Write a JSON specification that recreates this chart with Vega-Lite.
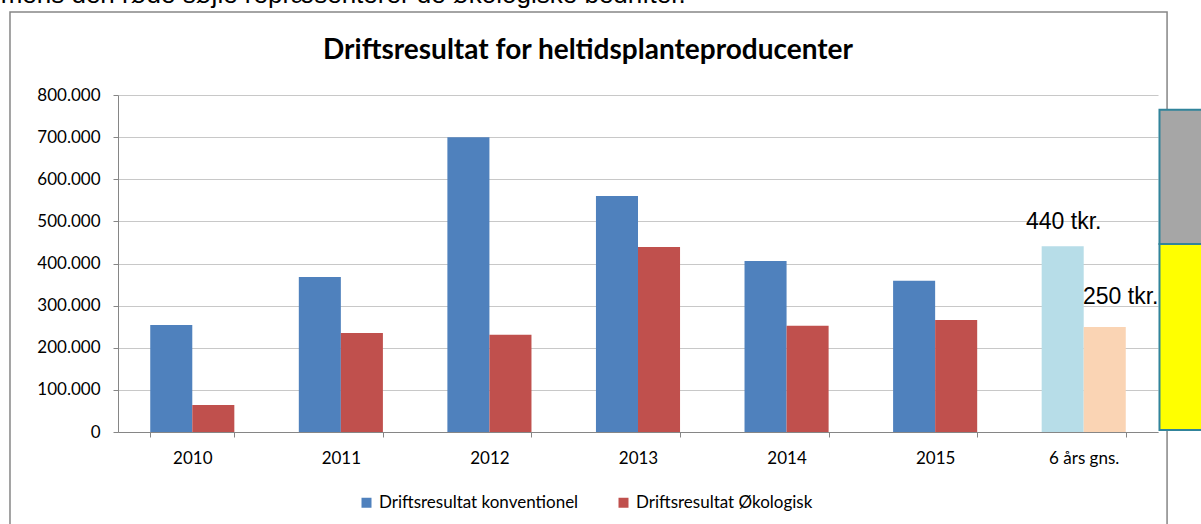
{
  "$schema": "https://vega.github.io/schema/vega-lite/v6.json",
  "width": 1040,
  "height": 337,
  "autosize": "none",
  "padding": {"left": 118, "top": 95, "right": 43, "bottom": 92},
  "background": "white",
  "config": {
    "view": {"stroke": null},
    "font": "Lato",
    "locale": {"number": {"decimal": ",", "thousands": ".", "grouping": [3], "currency": ["", " kr."]}}
  },
  "title": {
    "text": "Driftsresultat for heltidsplanteproducenter",
    "font": "Lato",
    "fontSize": 28,
    "fontWeight": "bold",
    "color": "#000000",
    "anchor": "middle",
    "frame": "group",
    "dx": -50,
    "offset": -83
  },
  "datasets": {
    "bars": [
      {"aar": "2010", "serie": "konv", "farve": "Driftsresultat konventionel", "vaerdi": 254000},
      {"aar": "2010", "serie": "oko", "farve": "Driftsresultat Økologisk", "vaerdi": 64000},
      {"aar": "2011", "serie": "konv", "farve": "Driftsresultat konventionel", "vaerdi": 368000},
      {"aar": "2011", "serie": "oko", "farve": "Driftsresultat Økologisk", "vaerdi": 235000},
      {"aar": "2012", "serie": "konv", "farve": "Driftsresultat konventionel", "vaerdi": 700000},
      {"aar": "2012", "serie": "oko", "farve": "Driftsresultat Økologisk", "vaerdi": 231000},
      {"aar": "2013", "serie": "konv", "farve": "Driftsresultat konventionel", "vaerdi": 560000},
      {"aar": "2013", "serie": "oko", "farve": "Driftsresultat Økologisk", "vaerdi": 439000},
      {"aar": "2014", "serie": "konv", "farve": "Driftsresultat konventionel", "vaerdi": 406000},
      {"aar": "2014", "serie": "oko", "farve": "Driftsresultat Økologisk", "vaerdi": 252000},
      {"aar": "2015", "serie": "konv", "farve": "Driftsresultat konventionel", "vaerdi": 359000},
      {"aar": "2015", "serie": "oko", "farve": "Driftsresultat Økologisk", "vaerdi": 266000},
      {"aar": "6 års gns.", "serie": "konv", "farve": "gns konventionel", "vaerdi": 441000, "etiket": "440 tkr."},
      {"aar": "6 års gns.", "serie": "oko", "farve": "gns økologisk", "vaerdi": 249000, "etiket": "250 tkr."}
    ],
    "ramme": [
      {"x1": -0.727, "x2": 7.061, "y1": -300000, "y2": 997000}
    ],
    "bokse": [
      {"x1": 7.01, "x2": 7.6, "y1": 446000, "y2": 765000, "boks": "graa"},
      {"x1": 7.01, "x2": 7.6, "y1": 5000, "y2": 446000, "boks": "gul"}
    ],
    "tekst": [
      {"x": -0.79, "y": 1018000, "tekst": "mens den røde søjle repræsenterer de økologiske bedrifter."}
    ]
  },
  "layer": [
    {
      "data": {"name": "bars"},
      "encoding": {
        "x": {
          "field": "aar", "type": "nominal", "sort": null,
          "scale": {"paddingInner": 0.434, "paddingOuter": 0.217},
          "axis": {
            "title": null, "labelAngle": 0, "labelFont": "Lato", "labelFontSize": 17, "labelColor": "#000000",
            "domainColor": "#868686", "tickColor": "#868686", "tickSize": 5, "tickBand": "extent",
            "labelPadding": 13, "grid": false
          }
        },
        "xOffset": {"field": "serie", "type": "nominal", "scale": {"paddingInner": 0, "paddingOuter": 0}},
        "y": {
          "field": "vaerdi", "type": "quantitative",
          "scale": {"domain": [0, 800000], "nice": false},
          "axis": {
            "title": null, "format": ",.0f", "values": [0, 100000, 200000, 300000, 400000, 500000, 600000, 700000, 800000],
            "labelFont": "Lato", "labelFontSize": 17, "labelColor": "#000000",
            "domainColor": "#868686", "tickColor": "#868686", "tickSize": 5, "labelPadding": 13,
            "gridColor": "#c8c8c8", "gridWidth": 1
          }
        }
      },
      "layer": [
        {
          "mark": {"type": "bar"},
          "encoding": {
            "color": {
              "field": "farve", "type": "nominal",
              "scale": {
                "domain": ["Driftsresultat konventionel", "Driftsresultat Økologisk", "gns konventionel", "gns økologisk"],
                "range": ["#4F81BD", "#C0504D", "#B7DDE8", "#FAD4B4"]
              },
              "legend": {
                "title": null, "values": ["Driftsresultat konventionel", "Driftsresultat Økologisk"],
                "orient": "none", "direction": "horizontal", "legendX": 240, "legendY": 399,
                "symbolType": "square", "symbolSize": 100, "symbolStrokeWidth": 0, "labelLimit": 400,
                "labelFont": "Lato", "labelFontSize": 17, "labelColor": "#000000", "columnPadding": 36
              }
            }
          }
        },
        {
          "transform": [{"filter": "datum.serie == 'konv' && datum.etiket"}],
          "mark": {"type": "text", "font": "Liberation Sans", "fontSize": 23, "baseline": "alphabetic", "dy": -17, "dx": 1, "color": "#000000"},
          "encoding": {"text": {"field": "etiket"}}
        },
        {
          "transform": [{"filter": "datum.serie == 'oko' && datum.etiket"}],
          "mark": {"type": "text", "font": "Liberation Sans", "fontSize": 23, "baseline": "alphabetic", "dy": -23, "dx": 16, "color": "#000000"},
          "encoding": {"text": {"field": "etiket"}}
        }
      ]
    },
    {
      "encoding": {
        "x": {"type": "quantitative", "scale": {"domain": [0, 7], "nice": false, "zero": false}, "axis": null},
        "y": {"type": "quantitative", "scale": {"domain": [0, 800000], "nice": false}, "axis": null}
      },
      "layer": [
        {
          "data": {"name": "ramme"},
          "mark": {"type": "rect", "fill": null, "fillOpacity": 0, "stroke": "#868686", "strokeWidth": 1.5, "clip": false},
          "encoding": {
            "x": {"field": "x1", "type": "quantitative"},
            "x2": {"field": "x2"},
            "y": {"field": "y1", "type": "quantitative"},
            "y2": {"field": "y2"}
          }
        },
        {
          "data": {"name": "bokse"},
          "mark": {"type": "rect", "stroke": "#31849B", "strokeWidth": 2, "clip": false},
          "encoding": {
            "x": {"field": "x1", "type": "quantitative"},
            "x2": {"field": "x2"},
            "y": {"field": "y1", "type": "quantitative"},
            "y2": {"field": "y2"},
            "color": {
              "field": "boks", "type": "nominal", "legend": null,
              "scale": {"domain": ["graa", "gul"], "range": ["#A6A6A6", "#FFFF00"]}
            }
          }
        },
        {
          "data": {"name": "tekst"},
          "mark": {"type": "text", "font": "Liberation Sans", "fontSize": 26, "align": "left", "baseline": "alphabetic", "color": "#000000", "clip": false},
          "encoding": {
            "x": {"field": "x", "type": "quantitative"},
            "y": {"field": "y", "type": "quantitative"},
            "text": {"field": "tekst"}
          }
        }
      ]
    }
  ],
  "resolve": {"scale": {"x": "independent", "y": "independent", "color": "independent"}}
}
